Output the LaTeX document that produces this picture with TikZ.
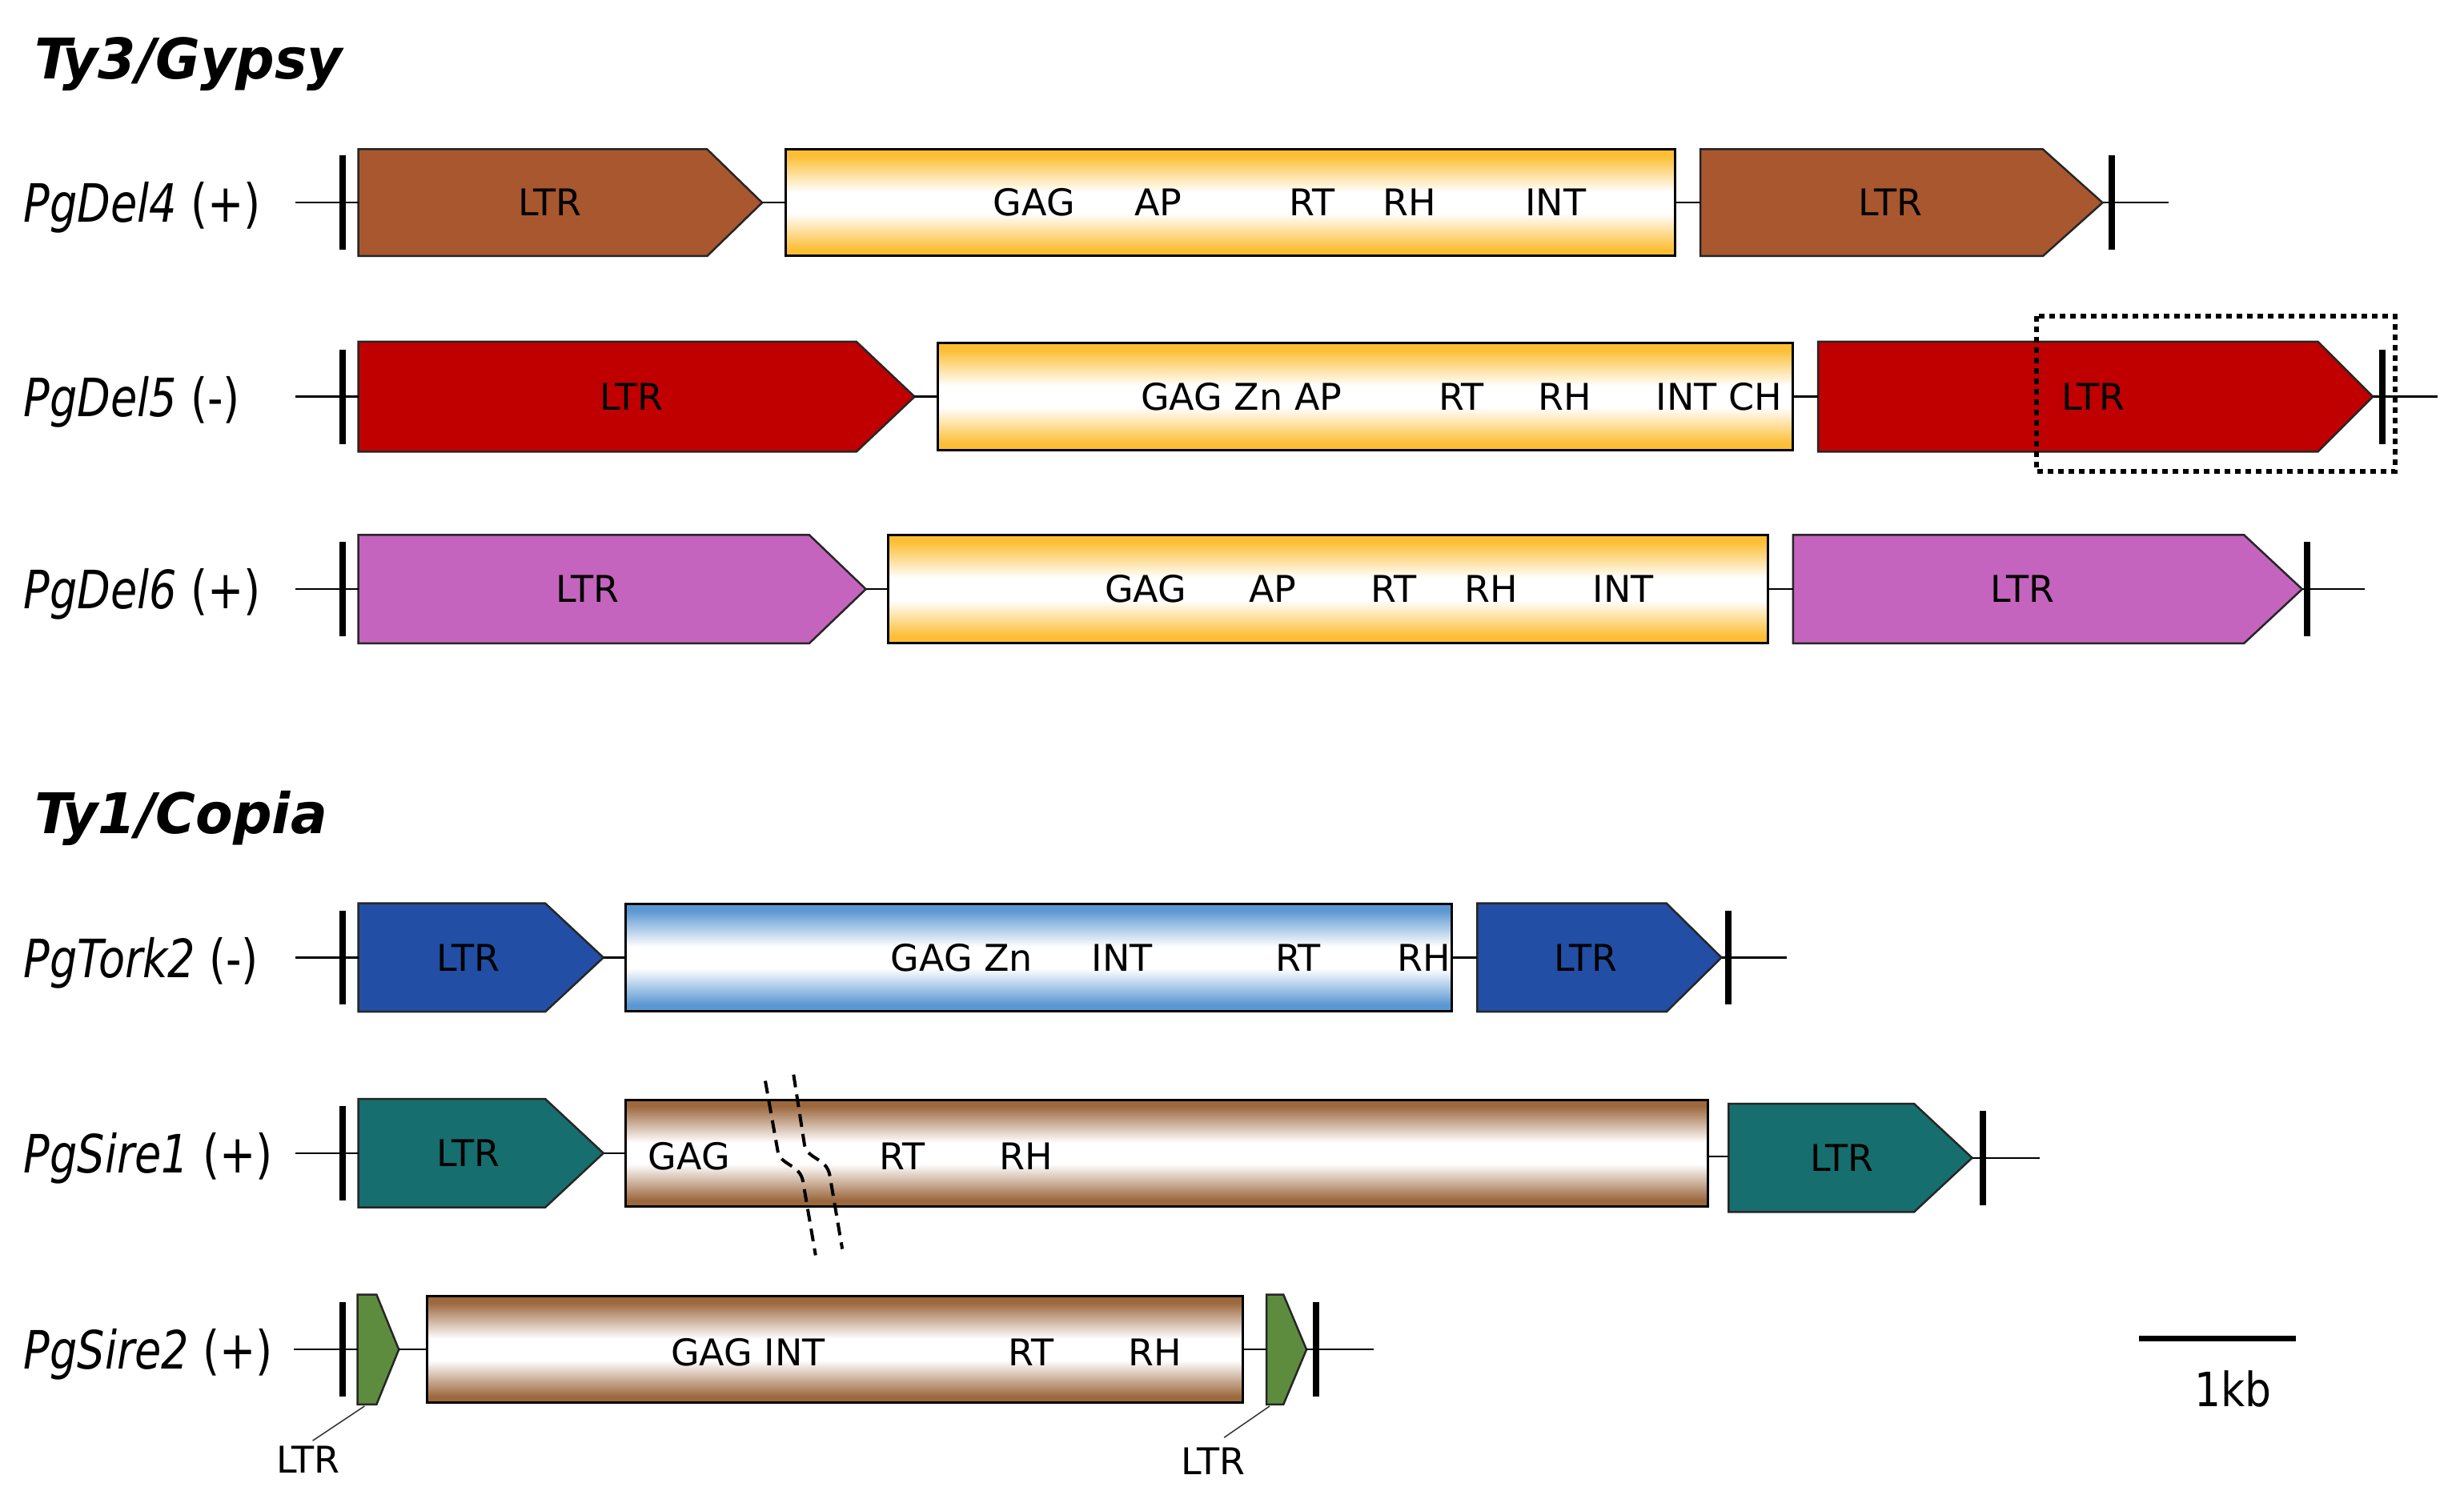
\documentclass[tikz,border=0pt]{standalone}
\usepackage{fontspec}
\setmainfont{DejaVu Sans}
\newfontfamily\rowfont[FakeStretch=0.82]{DejaVu Sans}
\newfontfamily\titlefont[FakeStretch=0.97]{DejaVu Sans}
\newfontfamily\kbfont[FakeStretch=0.88]{DejaVu Sans}
\definecolor{cDelA}{RGB}{169,87,47}
\definecolor{cDelB}{RGB}{192,0,0}
\definecolor{cDelC}{RGB}{196,100,190}
\definecolor{cTork}{RGB}{34,78,165}
\definecolor{cSireA}{RGB}{23,110,110}
\definecolor{cSireB}{RGB}{94,140,63}
\definecolor{gOrange}{RGB}{252,190,52}
\definecolor{gBlue}{RGB}{91,152,210}
\definecolor{gBrown}{RGB}{156,104,62}
\pgfdeclareverticalshading{shOrange}{100bp}{color(0bp)=(gOrange); color(28bp)=(gOrange); color(45bp)=(white); color(55bp)=(white); color(72bp)=(gOrange); color(100bp)=(gOrange)}
\pgfdeclareverticalshading{shBlue}{100bp}{color(0bp)=(gBlue); color(28bp)=(gBlue); color(45bp)=(white); color(55bp)=(white); color(72bp)=(gBlue); color(100bp)=(gBlue)}
\pgfdeclareverticalshading{shBrown}{100bp}{color(0bp)=(gBrown); color(28bp)=(gBrown); color(45bp)=(white); color(55bp)=(white); color(72bp)=(gBrown); color(100bp)=(gBrown)}
\tikzset{
 ltrline/.style={draw=black!85, line width=2.5pt, line join=miter},
 boxline/.style={draw=black, line width=3pt},
 bb/.style={draw=black, line width=2.5pt},
 endtick/.style={draw=black, line width=8pt},
 lbl/.style={font=\fontsize{46}{50}\selectfont, inner sep=0pt},
 rowlbl/.style={font=\rowfont\fontsize{66}{70}\selectfont, inner sep=0pt, anchor=base west},
 ttl/.style={font=\titlefont\bfseries\itshape\fontsize{70}{74}\selectfont, inner sep=0pt, anchor=base west},
 brk/.style={draw=black, line width=4pt, dash pattern=on 16pt off 9pt},
 dotbox/.style={draw=black, line width=6pt, dash pattern=on 7pt off 6pt},
 leader/.style={draw=black!80, line width=1.5pt},
 kblbl/.style={font=\kbfont\fontsize{59}{62}\selectfont, inner sep=0pt},
 scalebar/.style={draw=black, line width=7pt},
}
% name, x1, x2, xtip, yc, halfheight, colour
\newcommand{\LTRarrow}[7]{%
  \draw[ltrline, fill=#7] (#2,#5-#6) -- (#3,#5-#6) -- (#4,#5) -- (#3,#5+#6) -- (#2,#5+#6) -- cycle;
  \coordinate (#1w) at (#2,#5);
  \coordinate (#1e) at (#4,#5);
}
% name, x1, x2, yc, halfheight, shading
\newcommand{\GeneBox}[6]{%
  \shadedraw[boxline, shading=#6] (#2,#4-#5) rectangle (#3,#4+#5);
  \coordinate (#1w) at (#2,#4);
  \coordinate (#1e) at (#3,#4);
}
\begin{document}
\begin{tikzpicture}[x=1.963pt,y=-1.963pt]
\fill[white] (0,0) rectangle (1568,959);
\useasboundingbox (0,0) rectangle (1568,959);

% ---------- titles ----------
\node[ttl] (tgypsy) at (22,50) {Ty3/Gypsy};
\node[ttl] (tcopia) at (22,530.5) {Ty1/Copia};

% ---------- row 1: PgDel4 ----------
\node[rowlbl] (n1) at (15,141.5) {\textit{PgDel4} (+)};
\coordinate (r1s) at (188,129);
\coordinate (r1t) at (1380,129);
\LTRarrow{r1a}{228}{450}{485}{129}{34}{cDelA}
\GeneBox{r1g}{500}{1066}{129}{34}{shOrange}
\LTRarrow{r1b}{1082}{1300}{1338}{129}{34}{cDelA}
\draw[bb] (r1s) -- (r1aw);
\draw[bb] (r1ae) -- (r1gw);
\draw[bb] (r1ge) -- (r1bw);
\draw[bb] (r1be) -- (r1t);
\draw[endtick] (218,99) -- (218,159);
\draw[endtick] (1344,99) -- (1344,159);
\node[lbl] (r1la) at (350,129) {LTR};
\node[lbl] (r1lb) at (1203,129) {LTR};
\node[lbl] (r1g1) at (658,129) {GAG};
\node[lbl] (r1g2) at (737,129) {AP};
\node[lbl] (r1g3) at (835,129) {RT};
\node[lbl] (r1g4) at (897,129) {RH};
\node[lbl] (r1g5) at (990,129) {INT};

% ---------- row 2: PgDel5 ----------
\node[rowlbl] (n2) at (15,265) {\textit{PgDel5} (-)};
\coordinate (r2s) at (188,252.5);
\coordinate (r2t) at (1551,252.5);
\LTRarrow{r2a}{228}{545}{582}{252.5}{35}{cDelB}
\GeneBox{r2g}{597}{1141}{252.5}{34}{shOrange}
\LTRarrow{r2b}{1157}{1475}{1510}{252.5}{35}{cDelB}
\draw[bb] (r2s) -- (r2aw);
\draw[bb] (r2ae) -- (r2gw);
\draw[bb] (r2ge) -- (r2bw);
\draw[bb] (r2be) -- (r2t);
\draw[endtick] (218,222.5) -- (218,282.5);
\draw[endtick] (1516,222.5) -- (1516,282.5);
\node[lbl] (r2la) at (402,252.5) {LTR};
\node[lbl] (r2lb) at (1332,252.5) {LTR};
\node[lbl] (r2g1) at (790,252.5) {GAG Zn AP};
\node[lbl] (r2g2) at (930,252.5) {RT};
\node[lbl] (r2g3) at (996,252.5) {RH};
\node[lbl] (r2g4) at (1094,252.5) {INT CH};
\draw[dotbox] (1296,201) rectangle (1524,300);

% ---------- row 3: PgDel6 ----------
\node[rowlbl] (n3) at (15,387.5) {\textit{PgDel6} (+)};
\coordinate (r3s) at (188,375);
\coordinate (r3t) at (1505,375);
\LTRarrow{r3a}{228}{515}{551}{375}{34.5}{cDelC}
\GeneBox{r3g}{565}{1125}{375}{34.5}{shOrange}
\LTRarrow{r3b}{1141}{1428}{1465}{375}{34.5}{cDelC}
\draw[bb] (r3s) -- (r3aw);
\draw[bb] (r3ae) -- (r3gw);
\draw[bb] (r3ge) -- (r3bw);
\draw[bb] (r3be) -- (r3t);
\draw[endtick] (218,345) -- (218,405);
\draw[endtick] (1468,345) -- (1468,405);
\node[lbl] (r3la) at (374,375) {LTR};
\node[lbl] (r3lb) at (1287,375) {LTR};
\node[lbl] (r3g1) at (729,375) {GAG};
\node[lbl] (r3g2) at (810,375) {AP};
\node[lbl] (r3g3) at (887,375) {RT};
\node[lbl] (r3g4) at (949,375) {RH};
\node[lbl] (r3g5) at (1033,375) {INT};

% ---------- row 4: PgTork2 ----------
\node[rowlbl] (n4) at (15,622) {\textit{PgTork2} (-)};
\coordinate (r4s) at (188,609.5);
\coordinate (r4t) at (1137,609.5);
\LTRarrow{r4a}{228}{347}{384}{609.5}{34.5}{cTork}
\GeneBox{r4g}{398}{924}{609.5}{34}{shBlue}
\LTRarrow{r4b}{940}{1060.5}{1095.5}{609.5}{34.5}{cTork}
\draw[bb] (r4s) -- (r4aw);
\draw[bb] (r4ae) -- (r4gw);
\draw[bb] (r4ge) -- (r4bw);
\draw[bb] (r4be) -- (r4t);
\draw[endtick] (218,579.5) -- (218,639.5);
\draw[endtick] (1100,579.5) -- (1100,639.5);
\node[lbl] (r4la) at (298,609.5) {LTR};
\node[lbl] (r4lb) at (1009,609.5) {LTR};
\node[lbl] (r4g1) at (612,609.5) {GAG Zn};
\node[lbl] (r4g2) at (714,609.5) {INT};
\node[lbl] (r4g3) at (826,609.5) {RT};
\node[lbl] (r4g4) at (906,609.5) {RH};

% ---------- row 5: PgSire1 ----------
\node[rowlbl] (n5) at (15,746.5) {\textit{PgSire1} (+)};
\coordinate (r5s) at (188,734);
\coordinate (r5t) at (1298,737);
\LTRarrow{r5a}{228}{347}{384}{734}{34.5}{cSireA}
\GeneBox{r5g}{398}{1087}{734}{34}{shBrown}
\LTRarrow{r5b}{1100}{1218}{1255}{737}{34.5}{cSireA}
\coordinate (r5gx) at (1087,736);
\coordinate (r5bx) at (1100,736);
\draw[bb] (r5s) -- (r5aw);
\draw[bb] (r5ae) -- (r5gw);
\draw[bb] (r5gx) -- (r5bx);
\draw[bb] (r5be) -- (r5t);
\draw[endtick] (218,704) -- (218,764);
\draw[endtick] (1262,707) -- (1262,767);
\node[lbl] (r5la) at (298,734) {LTR};
\node[lbl] (r5lb) at (1172,737) {LTR};
\node[lbl] (r5g1) at (438.5,736) {GAG};
\node[lbl] (r5g2) at (574,736) {RT};
\node[lbl] (r5g3) at (653,736) {RH};
\draw[brk] (487,688) -- (495,733) .. controls (497,742) and (509,741) .. (511,752) -- (519,799);
\draw[brk] (505,684) -- (512,729) .. controls (514,738) and (526,737) .. (528,748) -- (536,795);

% ---------- row 6: PgSire2 ----------
\node[rowlbl] (n6) at (15,871.5) {\textit{PgSire2} (+)};
\coordinate (r6s) at (187,859);
\coordinate (r6t) at (874,859);
\LTRarrow{r6a}{227.5}{239.6}{253.8}{859}{35}{cSireB}
\GeneBox{r6g}{272}{791}{859}{34}{shBrown}
\LTRarrow{r6b}{806}{816.7}{831.4}{859}{35}{cSireB}
\draw[bb] (r6s) -- (r6aw);
\draw[bb] (r6ae) -- (r6gw);
\draw[bb] (r6ge) -- (r6bw);
\draw[bb] (r6be) -- (r6t);
\draw[endtick] (218,829) -- (218,889);
\draw[endtick] (837.7,829) -- (837.7,889);
\node[lbl] (r6g1) at (476,861) {GAG INT};
\node[lbl] (r6g2) at (656,861) {RT};
\node[lbl] (r6g3) at (735,861) {RH};
\node[lbl] (r6la) at (196,929) {LTR};
\node[lbl] (r6lb) at (772,930) {LTR};
\coordinate (r6ab) at (232,895);
\coordinate (r6bb) at (808,895);
\coordinate (r6lae) at (199,917);
\coordinate (r6lbe) at (779,915);
\draw[leader] (r6ab) -- (r6lae);
\draw[leader] (r6bb) -- (r6lbe);

% ---------- scale bar ----------
\coordinate (sb1) at (1361,852);
\coordinate (sb2) at (1461,852);
\draw[scalebar] (sb1) -- (sb2);
\node[kblbl] (kb) at (1421,884) {1kb};
\end{tikzpicture}
\end{document}
